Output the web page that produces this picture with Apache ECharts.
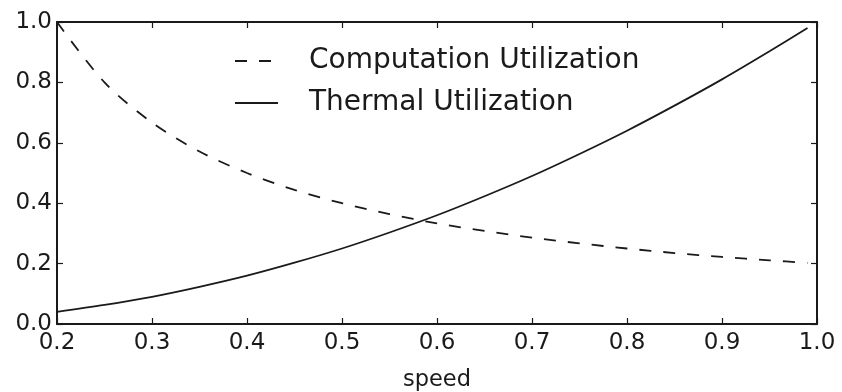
<!DOCTYPE html>
<html><head><meta charset="utf-8">
<script src="https://cdn.jsdelivr.net/npm/echarts@6/dist/echarts.min.js"></script>
<style>html,body{margin:0;padding:0;background:#fff}#c{width:842px;height:392px}</style>
</head><body><div id="c"></div>
<script>
const speed = [0.20,0.25,0.30,0.35,0.40,0.45,0.50,0.55,0.60,0.65,0.70,0.75,0.80,0.85,0.90,0.95,0.99];
const computation = [1.000,0.800,0.667,0.571,0.500,0.444,0.400,0.364,0.333,0.308,0.286,0.267,0.250,0.235,0.222,0.211,0.202];
const thermal = [0.040,0.063,0.090,0.123,0.160,0.203,0.250,0.303,0.360,0.423,0.490,0.563,0.640,0.723,0.810,0.903,0.980];
const xTicks = [0.2,0.3,0.4,0.5,0.6,0.7,0.8,0.9,1.0];
const yTicks = [0.0,0.2,0.4,0.6,0.8,1.0];
const seriesNames = ['Computation Utilization','Thermal Utilization'];

const font = 'DejaVu Sans';
const ink = '#1a1a1a';
const chart = echarts.init(document.getElementById('c'), null, {renderer:'canvas'});
const axisCommon = {
  axisLine:{show:true,onZero:false,lineStyle:{color:ink,width:2}},
  axisTick:{show:true,inside:true,length:6,lineStyle:{color:ink,width:1.2}},
  splitLine:{show:false}
};
chart.setOption({
  animation:false,
  grid:{left:57,right:25,top:22,bottom:68,containLabel:false,outerBoundsMode:'none'},
  legend:{
    data:seriesNames,
    orient:'vertical', left:234, top:47, padding:0,
    itemWidth:43, itemHeight:14, itemGap:14,
    itemStyle:{opacity:0},
    textStyle:{fontFamily:font,fontSize:28,color:ink,padding:[0,0,0,26]}
  },
  xAxis:[
    Object.assign({type:'value',min:xTicks[0],max:xTicks[xTicks.length-1],interval:0.1,position:'bottom',
      name:'speed',nameLocation:'middle',nameGap:45,nameTextStyle:{fontFamily:font,fontSize:22.5,color:ink},
      axisLabel:{fontFamily:font,fontSize:23,color:ink,margin:8,formatter:v=>v.toFixed(1)}},axisCommon),
    Object.assign({type:'value',min:xTicks[0],max:xTicks[xTicks.length-1],interval:0.1,position:'top',
      axisLabel:{show:false}},axisCommon)
  ],
  yAxis:[
    Object.assign({type:'value',min:yTicks[0],max:yTicks[yTicks.length-1],interval:0.2,position:'left',
      axisLabel:{fontFamily:font,fontSize:23,color:ink,margin:5,formatter:v=>v.toFixed(1)}},axisCommon),
    Object.assign({type:'value',min:yTicks[0],max:yTicks[yTicks.length-1],interval:0.2,position:'right',
      axisLabel:{show:false}},axisCommon)
  ],
  series:[
    {name:seriesNames[0],type:'line',smooth:0.3,symbol:'none',data:speed.map((x,i)=>[x,computation[i]]),
      lineStyle:{color:ink,width:1.8,type:[12,12]},itemStyle:{color:ink}},
    {name:seriesNames[1],type:'line',smooth:0.3,symbol:'none',data:speed.map((x,i)=>[x,thermal[i]]),
      lineStyle:{color:ink,width:1.8,type:'solid'},itemStyle:{color:ink}}
  ]
});
</script></body></html>
